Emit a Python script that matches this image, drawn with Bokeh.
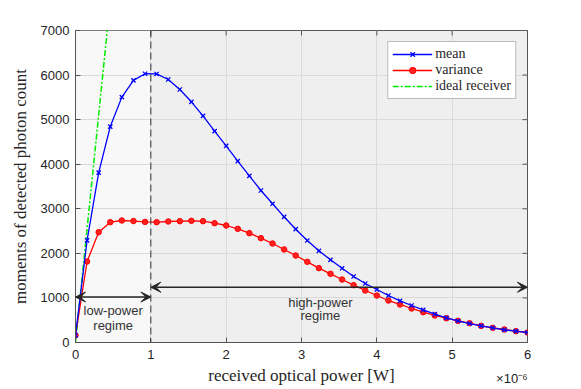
import math
from bokeh.plotting import figure
from bokeh.models import (BoxAnnotation, Span, Arrow, VeeHead, Label, Title,
                          FixedTicker, Range1d, Legend)
from bokeh.embed import file_html
from bokeh.resources import INLINE

# ---- data (received optical power in units of 1e-6 W) ----
power_uW = [0.0, 0.1538, 0.3077, 0.4615, 0.6154, 0.7692, 0.9231, 1.0769, 1.2308, 1.3846,
            1.5385, 1.6923, 1.8462, 2.0, 2.1538, 2.3077, 2.4615, 2.6154, 2.7692, 2.9231,
            3.0769, 3.2308, 3.3846, 3.5385, 3.6923, 3.8462, 4.0, 4.1538, 4.3077, 4.4615,
            4.6154, 4.7692, 4.9231, 5.0769, 5.2308, 5.3846, 5.5385, 5.6923, 5.8462, 6.0]
mean_count = [160, 2290, 3810, 4845, 5505, 5880, 6030, 6025, 5900, 5676,
              5400, 5086, 4741, 4413, 4068, 3740, 3410, 3112, 2820, 2542,
              2288, 2057, 1855, 1665, 1481, 1324, 1189, 1054, 935, 830,
              733, 636, 553, 486, 426, 374, 329, 284, 254, 224]
variance_count = [160, 1817, 2476, 2700, 2737, 2725, 2705, 2700, 2715, 2722,
                  2730, 2722, 2677, 2625, 2550, 2453, 2341, 2221, 2087, 1952,
                  1810, 1668, 1541, 1413, 1286, 1167, 1054, 942, 853, 763,
                  680, 606, 545, 486, 433, 374, 329, 292, 254, 224]
ideal_power_uW = [0.0, 0.5]
ideal_count = [0, 8300]

x_ticks = [0, 1, 2, 3, 4, 5, 6]
y_ticks = [0, 1000, 2000, 3000, 4000, 5000, 6000, 7000]
x_min, x_max = 0, 6
y_min, y_max = 0, 7000
regime_split = 1.0
low_arrow_y = 1020
high_arrow_y = 1240

TXT = "#262626"
AXC = "#555555"
SANS = "Liberation Sans"
SERIF = "Liberation Serif"

p = figure(frame_width=452, frame_height=312,
           min_border_left=75, min_border_right=54, min_border_top=30, min_border_bottom=47,
           x_range=Range1d(x_min, x_max), y_range=Range1d(y_min, y_max),
           output_backend="svg", toolbar_location=None,
           background_fill_color="#efefef", border_fill_color="white")

p.add_layout(BoxAnnotation(left=x_min, right=regime_split, fill_color="#f8f8f8", fill_alpha=1,
                           line_color=None, level="image"))

# grids
for g in (p.xgrid, p.ygrid):
    g.grid_line_color = "#dadada"
    g.grid_line_width = 1
p.xgrid.ticker = FixedTicker(ticks=x_ticks)
p.ygrid.ticker = FixedTicker(ticks=y_ticks)

# axes
for ax in (p.xaxis[0], p.yaxis[0]):
    ax.major_tick_in = 5
    ax.major_tick_out = 0
    ax.minor_tick_line_color = None
    ax.axis_line_color = AXC
    ax.major_tick_line_color = AXC
    ax.major_label_text_font = SANS
    ax.major_label_text_font_size = "13px"
    ax.major_label_text_color = TXT
    ax.axis_label_text_font = SERIF
    ax.axis_label_text_font_size = "17px"
    ax.axis_label_text_font_style = "normal"
    ax.axis_label_text_color = TXT
p.xaxis.ticker = FixedTicker(ticks=x_ticks)
p.yaxis.ticker = FixedTicker(ticks=y_ticks)
p.xaxis.axis_label = "received optical power [W]"
p.yaxis.axis_label = "moments of detected photon count"
p.xaxis.major_label_standoff = 7
p.yaxis.major_label_standoff = 6
p.xaxis.axis_label_standoff = 4
p.yaxis.axis_label_standoff = 8
p.outline_line_color = AXC

# exponent of the x axis, as a right-aligned title tucked under the axis
p.add_layout(Title(text="×10⁻⁶", align="right", vertical_align="top", text_font=SANS,
                   text_font_size="13px", text_font_style="normal", text_color=TXT,
                   standoff=-34, offset=0),
             "below")

# mirrored inward ticks on the top and right edges (half of each dash is clipped)
p.scatter(x_ticks, [y_max] * len(x_ticks), marker="dash", angle=math.pi / 2, size=10,
          line_color=AXC, line_width=1)
p.scatter([x_max] * len(y_ticks), y_ticks, marker="dash", size=10,
          line_color=AXC, line_width=1)

# regime divider
p.add_layout(Span(location=regime_split, dimension="height", line_color="#333333",
                  line_dash="7 4", line_width=1))

# series
r_ideal = p.line(ideal_power_uW, ideal_count, line_color="#00ee00", line_width=1.5,
                 line_dash="6 2 2 2")
r_var_l = p.line(power_uW, variance_count, line_color="#ff0000", line_width=1.3)
r_var_m = p.scatter(power_uW, variance_count, marker="circle", size=5.5,
                    fill_color="#ff2020", line_color="#ff0000")
r_mean_l = p.line(power_uW, mean_count, line_color="#0000ff", line_width=1.3)
r_mean_m = p.scatter(power_uW, mean_count, marker="x", size=6, line_color="#0000ff",
                     line_width=1.3)

legend = Legend(items=[("mean", [r_mean_l, r_mean_m]),
                       ("variance", [r_var_l, r_var_m]),
                       ("ideal receiver", [r_ideal])],
                location="top_right")
legend.label_text_font = SERIF
legend.label_text_font_size = "14px"
legend.label_text_color = TXT
legend.glyph_width = 40
legend.glyph_height = 16
legend.label_height = 16
legend.spacing = 0
legend.padding = 4
legend.margin = 11
legend.label_standoff = 3
legend.border_line_color = "#777777"
legend.background_fill_color = "white"
legend.background_fill_alpha = 1
p.add_layout(legend)

# regime arrows
head = dict(size=10, fill_color="#262626", line_color="#262626")
p.add_layout(Arrow(x_start=x_min, y_start=low_arrow_y, x_end=regime_split, y_end=low_arrow_y,
                   start=VeeHead(**head), end=VeeHead(**head),
                   line_color="#262626", line_width=1.5))
p.add_layout(Arrow(x_start=regime_split, y_start=high_arrow_y, x_end=x_max, y_end=high_arrow_y,
                   start=VeeHead(**head), end=VeeHead(**head),
                   line_color="#262626", line_width=1.5))

for txt, xx, yy in (("low-power", 0.5, 718), ("regime", 0.5, 381),
                    ("high-power", 3.25, 904), ("regime", 3.25, 606)):
    p.add_layout(Label(x=xx, y=yy, text=txt, text_align="center", text_baseline="middle",
                       text_font=SANS, text_font_size="13px", text_color="#333333"))

open("out.html", "w").write(file_html(p, INLINE))
